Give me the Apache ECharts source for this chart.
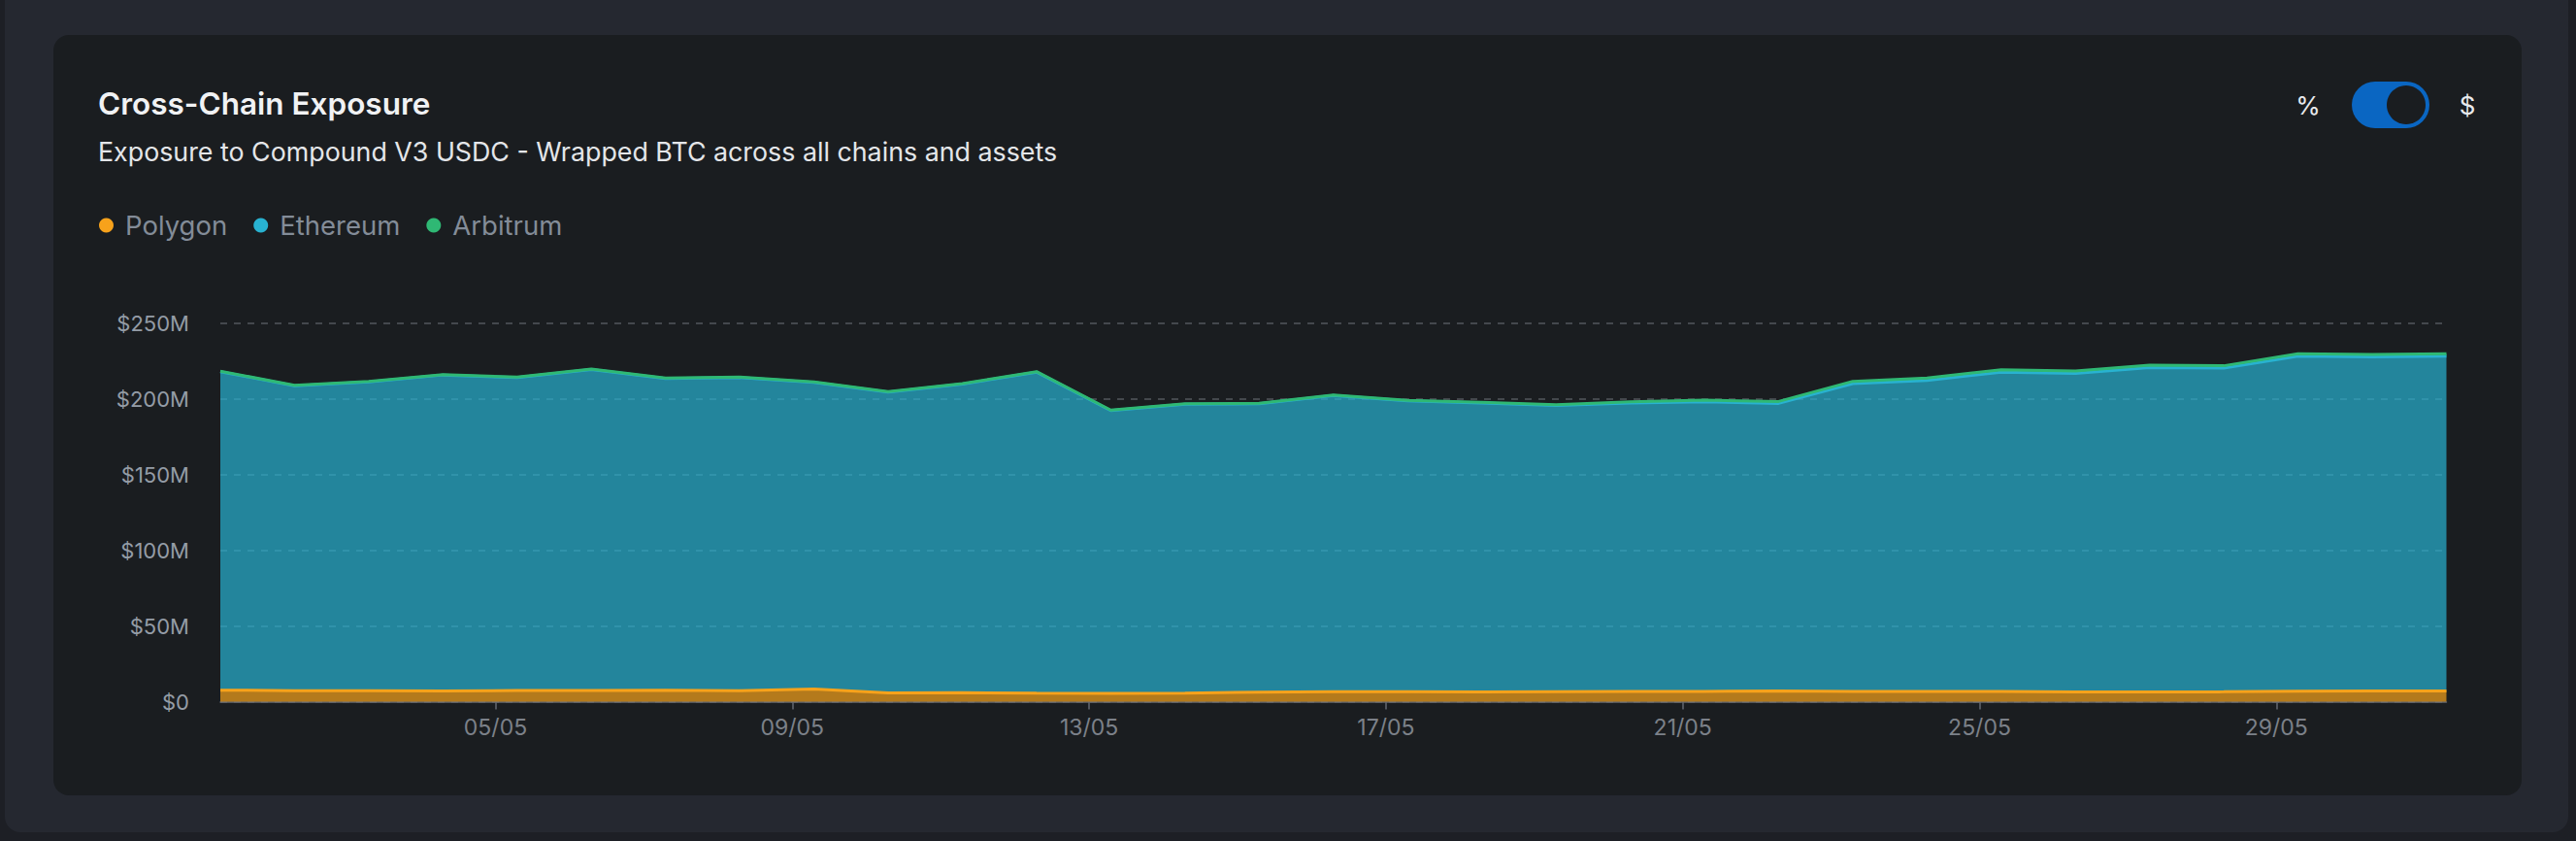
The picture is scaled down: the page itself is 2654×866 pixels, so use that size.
<!DOCTYPE html>
<html>
<head>
<meta charset="utf-8">
<script src="https://cdn.jsdelivr.net/npm/echarts@6/dist/echarts.min.js"></script>
<style>
html,body{margin:0;padding:0;width:2654px;height:866px;overflow:hidden;background:#1d1f25;}
#panel{position:absolute;left:5px;top:-30px;width:2641px;height:887px;background:#252830;border-radius:16px;}
#card{position:absolute;left:55px;top:36px;width:2543px;height:783px;background:#1a1d20;border-radius:16px;}
#chart{position:absolute;left:0;top:0;width:2654px;height:866px;}
</style>
</head>
<body>
<div id="panel"></div>
<div id="card"></div>
<div id="chart"></div>
<script>
// Daily timestamps (local time)
const dates = [
  '2025-05-01 07:00','2025-05-02 07:00','2025-05-03 07:00','2025-05-04 07:00','2025-05-05 07:00',
  '2025-05-06 07:00','2025-05-07 07:00','2025-05-08 07:00','2025-05-09 07:00','2025-05-10 07:00',
  '2025-05-11 07:00','2025-05-12 07:00','2025-05-13 07:00','2025-05-14 07:00','2025-05-15 07:00',
  '2025-05-16 07:00','2025-05-17 07:00','2025-05-18 07:00','2025-05-19 07:00','2025-05-20 07:00',
  '2025-05-21 07:00','2025-05-22 07:00','2025-05-23 07:00','2025-05-24 07:00','2025-05-25 07:00',
  '2025-05-26 07:00','2025-05-27 07:00','2025-05-28 07:00','2025-05-29 07:00','2025-05-30 07:00',
  '2025-05-31 07:00'
];
// Values in $M
const polygon = [7.6,7.3,7.2,7.0,7.4,7.4,7.5,7.3,8.4,5.8,5.9,5.6,5.5,5.6,6.3,6.6,6.5,6.4,6.5,6.7,6.8,7.1,6.8,6.8,6.7,6.4,6.4,6.5,6.9,7.0,7.0];
const ethereum = [210.5,201.5,204.2,208.9,206.8,212.1,206.1,206.9,202.6,198.8,204.0,212.2,186.9,191.0,190.6,195.8,192.3,191.0,189.2,190.6,191.3,190.0,203.4,205.5,211.1,210.6,214.4,213.9,221.4,220.9,221.3];
const arbitrum = [0.3,0.3,0.3,0.3,0.3,0.3,0.3,0.3,0.3,0.3,0.3,0.3,0.3,0.3,0.3,0.3,0.3,0.4,0.6,0.9,1.2,1.3,1.5,1.6,1.6,1.6,1.6,1.6,1.6,1.6,1.6];
const seriesNames = ['Polygon','Ethereum','Arbitrum'];
const seriesColors = ['#f7a21b','#28b2d1','#2fb874'];
const yMax = 250, yStep = 50;

const FONT = 'Inter, "Noto Sans", sans-serif';
const chart = echarts.init(document.getElementById('chart'), null, {renderer:'svg'});

function mk(name, vals, color){
  return {
    name, type:'line', stack:'total', symbol:'none', showSymbol:false,
    data: dates.map((d,i)=>[d, vals[i]]),
    lineStyle:{width:3, color},
    itemStyle:{color},
    areaStyle:{color, opacity:0.7},
    emphasis:{disabled:true}
  };
}

chart.setOption({
  animation:false,
  backgroundColor:'transparent',
  title:[
    {text:'Cross-Chain Exposure', left:101, top:91, padding:0,
     textStyle:{color:'#f1f2f4', fontSize:31.5, fontWeight:600, fontFamily:FONT, lineHeight:31}},
    {text:'Exposure to Compound V3 USDC - Wrapped BTC across all chains and assets', left:101, top:142, padding:0,
     textStyle:{color:'#e4e6e9', fontSize:26.8, fontWeight:400, fontFamily:FONT, lineHeight:27}}
  ],
  legend:{
    left:102, top:218, padding:0, icon:'circle', itemWidth:15, itemHeight:15, itemGap:27,
    data:seriesNames,
    textStyle:{color:'#838c98', fontSize:27.5, fontFamily:FONT, padding:[0,0,0,7]}
  },
  grid:{left:227, right:133.5, top:333, bottom:143.5},
  xAxis:{
    type:'time',
    min: dates[0], max: dates[dates.length-1],
    boundaryGap:false,
    axisLine:{show:true, lineStyle:{color:'#646870', width:1.5}},
    axisTick:{show:true, length:8, lineStyle:{color:'#646870', width:1.5}},
    splitLine:{show:false},
    axisLabel:{formatter:'{dd}/{MM}', color:'#7c8189', fontSize:23, fontFamily:FONT, margin:15}
  },
  yAxis:{
    type:'value', min:0, max:yMax, interval:yStep,
    axisLine:{show:false}, axisTick:{show:false},
    splitLine:{show:true, lineStyle:{color:'#53575c', type:[7,7], width:1.5}},
    axisLabel:{color:'#949ca6', fontSize:22, fontFamily:FONT, margin:32,
      formatter:v => v===0 ? '$0' : '$'+v+'M'}
  },
  graphic:[
    {type:'text', x:2378, y:108.5, style:{text:'%', fill:'#e8eaed', fontSize:26, fontFamily:FONT, align:'center', verticalAlign:'middle'}},
    {type:'rect', shape:{x:2423, y:84, width:80, height:48, r:24}, style:{fill:'#0a66c2'}},
    {type:'circle', shape:{cx:2479, cy:108, r:20}, style:{fill:'#1a1d20'}},
    {type:'text', x:2542, y:108.5, style:{text:'$', fill:'#e8eaed', fontSize:26, fontFamily:FONT, align:'center', verticalAlign:'middle'}}
  ],
  series:[
    mk(seriesNames[0], polygon, seriesColors[0]),
    mk(seriesNames[1], ethereum, seriesColors[1]),
    mk(seriesNames[2], arbitrum, seriesColors[2])
  ]
});
</script>
</body>
</html>
